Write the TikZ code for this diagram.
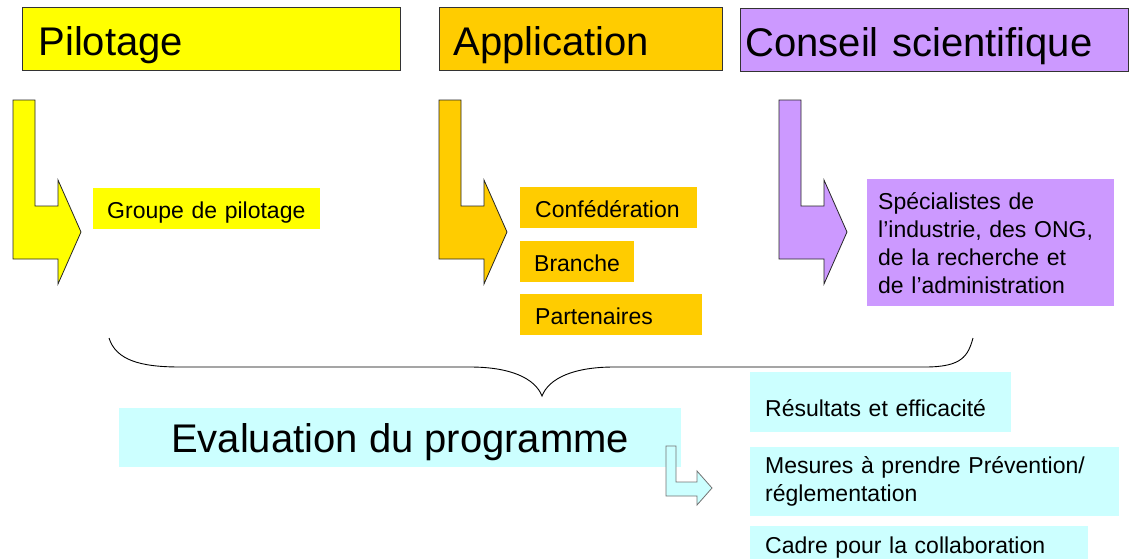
\documentclass[tikz,border=0pt]{standalone}
\usepackage{fontspec}
\setmainfont{Liberation Sans}
\definecolor{pilotyellow}{HTML}{FFFF00}
\definecolor{appliorange}{HTML}{FFCC00}
\definecolor{conseilpurple}{HTML}{CC99FF}
\definecolor{evalcyan}{HTML}{CCFFFF}
\begin{document}
\begin{tikzpicture}[x=1pt, y=-1pt,
    headbox/.style={draw=black!80, line width=1pt, anchor=north west, inner ysep=0pt,
      text height=48pt, text depth=15pt, align=left, font=\fontsize{40}{48}\selectfont},
    smallbox/.style={anchor=north west, inner ysep=0pt, align=left,
      font=\fontsize{23}{28}\selectfont},
    bentarrow/.style={draw=black!85, line width=0.8pt, line join=miter}]
  \useasboundingbox (0,0) rectangle (1130,558);
  \clip (0,0) rectangle (1130,558);
  % Headers
  \node[headbox, fill=pilotyellow, text width=346pt, inner xsep=16pt] (pilot) at (22,7) {Pilotage};
  \node[headbox, fill=appliorange, text width=255pt, inner xsep=14pt] (appli) at (439,7) {Application};
  \node[headbox, fill=conseilpurple, text width=378pt, inner xsep=5pt] (conseil) at (740,8) {Conseil scientifique};
  % Bent arrows under the headers
  \foreach \dx/\col in {0/pilotyellow, 426/appliorange, 766/conseilpurple}
    \draw[bentarrow, fill=\col, shift={(\dx,0)}]
      (13,100) -- (35,100) -- (35,206) -- (58,206) -- (58,180)
      -- (81,232) -- (58,284) -- (58,259) -- (13,259) -- cycle;
  % Pilotage
  \node[smallbox, fill=pilotyellow, text width=199pt, inner xsep=14pt,
    text height=30pt, text depth=11pt] (groupe) at (93,188) {Groupe de pilotage};
  % Application
  \node[smallbox, fill=appliorange, text width=147pt, inner xsep=15pt,
    text height=30pt, text depth=11pt] (confed) at (520,187) {Confédération};
  \node[smallbox, fill=appliorange, text width=86pt, inner xsep=14pt,
    text height=30pt, text depth=11pt] (branche) at (520,241) {Branche};
  \node[smallbox, fill=appliorange, text width=152pt, inner xsep=15pt,
    text height=30pt, text depth=11pt] (partner) at (520,294) {Partenaires};
  % Conseil scientifique
  \node[smallbox, fill=conseilpurple, text width=225pt, inner xsep=11pt,
    minimum height=127pt] (special) at (867,179)
    {Spécialistes de\\l’industrie, des ONG,\\de la recherche et\\de l’administration};
  % Brace
  \draw[line width=0.9pt]
    (109,338) .. controls (116,360) and (140,367) .. (180,367) -- (470,367)
    .. controls (510,367) and (535,378) .. (542,396)
    .. controls (549,378) and (574,367) .. (614,367) -- (925,367)
    .. controls (962,367) and (968,356) .. (973,338);
  % Evaluation
  \node[fill=evalcyan, anchor=north west, minimum width=562pt, inner sep=0pt,
    text height=44pt, text depth=15pt, font=\fontsize{40}{48}\selectfont]
    (evalprog) at (119,408) {Evaluation du programme};
  \draw[bentarrow, draw=black!55, fill=evalcyan]
    (666,446) -- (676,446) -- (676,482) -- (697,482) -- (697,471)
    -- (712,488) -- (697,505) -- (697,496) -- (666,496) -- cycle;
  \node[smallbox, fill=evalcyan, text width=231pt, inner xsep=15pt,
    text height=44pt, text depth=16pt] (result) at (750,372) {Résultats et efficacité};
  \node[smallbox, fill=evalcyan, text width=339pt, inner xsep=15pt,
    minimum height=69pt] (mesures) at (750,447) {Mesures à prendre Prévention/\\réglementation};
  \node[smallbox, fill=evalcyan, text width=308pt, inner xsep=15pt,
    text height=27pt, text depth=15pt] (cadre) at (750,526) {Cadre pour la collaboration};
\end{tikzpicture}
\end{document}
